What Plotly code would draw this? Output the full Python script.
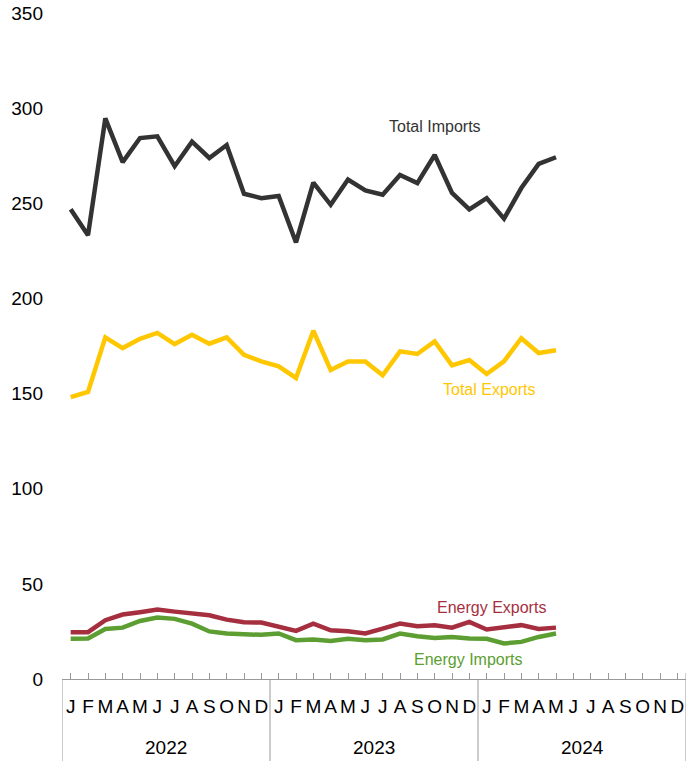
import plotly.graph_objects as go

months = ["J", "F", "M", "A", "M", "J", "J", "A", "S", "O", "N", "D"]
years = ["2022", "2023", "2024"]

total_imports = [246.8, 233.2, 294.6, 271.6, 284.3, 285.2, 269.5, 282.4, 273.8, 280.6, 255.0, 252.7,
                 253.8, 229.4, 260.8, 249.2, 262.5, 256.8, 254.5, 264.9, 260.6, 275.4, 255.5, 246.8,
                 252.7, 241.9, 258.0, 270.7, 274.2]
total_exports = [148.1, 150.9, 179.5, 173.9, 178.8, 181.9, 176.0, 180.9, 176.2, 179.5, 170.4, 166.9,
                 164.3, 158.2, 183.0, 162.4, 166.9, 166.9, 159.6, 172.2, 170.8, 177.4, 164.8, 167.6,
                 160.3, 166.9, 179.1, 171.3, 172.8]
energy_exports = [24.6, 24.6, 30.9, 33.9, 35.1, 36.5, 35.4, 34.7, 33.5, 31.2, 29.8, 29.7,
                  27.7, 25.3, 29.1, 25.6, 25.1, 23.9, 26.5, 29.1, 27.7, 28.3, 27.0, 30.0,
                  26.0, 27.0, 28.3, 26.3, 27.0]
energy_imports = [21.1, 21.3, 26.3, 27.0, 30.5, 32.3, 31.6, 29.1, 25.0, 23.9, 23.5, 23.2,
                  23.9, 20.4, 20.8, 20.0, 21.1, 20.4, 20.8, 23.9, 22.5, 21.6, 22.1, 21.3,
                  21.1, 18.7, 19.5, 22.1, 23.9]

n_months = len(months) * len(years)
month_idx = list(range(n_months))
tick_text = months * len(years)

FONT = "Liberation Sans, Arial, sans-serif"

series = [
    ("Total Imports", total_imports, "#333333"),
    ("Total Exports", total_exports, "#FFC700"),
    ("Energy Exports", energy_exports, "#A62F3F"),
    ("Energy Imports", energy_imports, "#5C9E31"),
]

fig = go.Figure()
for name, vals, col in series:
    fig.add_trace(go.Scatter(
        x=month_idx[:len(vals)], y=vals, mode="lines", name=name,
        line=dict(color=col, width=4.5), showlegend=False,
    ))

labels = [
    ("Total Imports", 21.0, 290.1, "#333333"),
    ("Total Exports", 24.14, 152.4, "#FFC700"),
    ("Energy Exports", 24.25, 37.5, "#A62F3F"),
    ("Energy Imports", 22.92, 10.3, "#5C9E31"),
]
for txt, lx, ly, col in labels:
    fig.add_annotation(x=lx, y=ly, xref="x", yref="y", text=txt, showarrow=False,
                       font=dict(family=FONT, size=16, color=col),
                       xanchor="center", yanchor="middle")

plot_h = 761 - 13 - 82
div_depth = 82 / plot_h
for i in range(len(years) + 1):
    xb = i * 12 - 0.5
    y_top = 6 / plot_h if i == len(years) else 0
    fig.add_shape(type="line", xref="x", yref="paper", x0=xb, x1=xb, y0=y_top, y1=-div_depth,
                  line=dict(color="#999999", width=1))

for i, yr in enumerate(years):
    fig.add_annotation(x=i * 12 + 5.5, y=-(747 - 679) / plot_h, xref="x", yref="paper",
                       text=yr, showarrow=False, xanchor="center", yanchor="middle",
                       font=dict(family=FONT, size=19, color="#000000"))

fig.update_layout(
    width=696, height=761, autosize=False,
    margin=dict(l=62, r=10, t=13, b=82, autoexpand=False),
    plot_bgcolor="white", paper_bgcolor="white",
    font=dict(family=FONT, color="#000000"),
    xaxis=dict(
        range=[-0.5, n_months - 0.5], tickmode="array", tickvals=month_idx, ticktext=tick_text,
        ticks="inside", ticklen=6, tickcolor="#999999", tickwidth=1, tickangle=0,
        showline=True, linecolor="#999999", linewidth=1, showgrid=False, zeroline=False,
        tickfont=dict(family=FONT, size=19, color="#000000"), ticklabelstandoff=10,
        automargin=False, fixedrange=True,
    ),
    yaxis=dict(
        range=[0, 350], tickmode="array", tickvals=list(range(0, 351, 50)),
        showgrid=False, zeroline=False, showline=False, ticks="",
        tickfont=dict(family=FONT, size=19, color="#000000"), ticklabelstandoff=18,
        automargin=False, fixedrange=True,
    ),
)

fig.write_html("out.html", config={"displayModeBar": False},
               post_script="document.body.style.margin='0';document.body.style.overflow='hidden';")
